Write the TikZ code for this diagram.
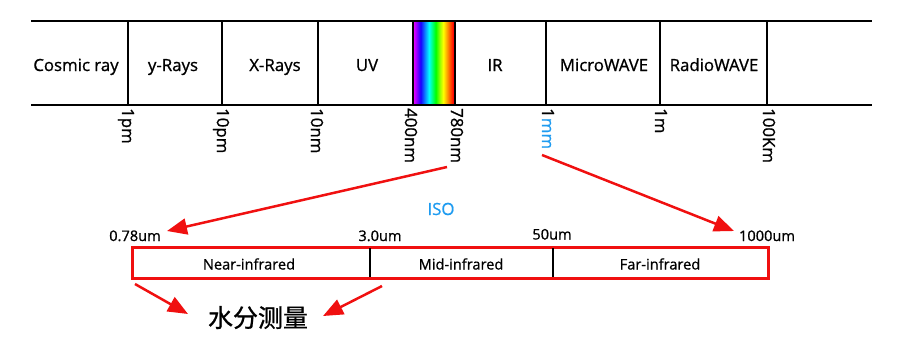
\documentclass[tikz,border=0pt]{standalone}
\usepackage{fontspec}
\setmainfont{Open Sans}
\newfontfamily\lblfont{Open Sans}[BoldFont={Open Sans},BoldFeatures={FakeBold=0.9}]
\newfontfamily\cjk{Noto Sans CJK SC}[BoldFont={Noto Sans CJK SC},BoldFeatures={FakeBold=0.9}]
\usetikzlibrary{arrows.meta}
\definecolor{arrred}{RGB}{240,16,16}
\definecolor{isoblue}{RGB}{30,155,240}
\pgfdeclarehorizontalshading{spectrum}{100bp}{rgb(0bp)=(1,0,1); rgb(25bp)=(1,0,1); rgb(28bp)=(0.7,0,1); rgb(34bp)=(0.1,0,1); rgb(44bp)=(0,1,1); rgb(52bp)=(0,1,0); rgb(57bp)=(0.6,1,0); rgb(61bp)=(1,1,0); rgb(67bp)=(1,0.5,0); rgb(73bp)=(1,0,0); rgb(75bp)=(1,0,0); rgb(100bp)=(1,0,0)}
\tikzset{
  bandline/.style={line width=2.5pt, black},
  toplbl/.style={font=\lblfont\bfseries\fontsize{16.8}{19}\selectfont, inner sep=0pt, anchor=base},
  ticklbl/.style={font=\lblfont\bfseries\fontsize{16.8}{19}\selectfont, inner sep=0pt, anchor=west, rotate=-90},
  botlbl/.style={font=\lblfont\bfseries\fontsize{14.6}{16}\selectfont, inner sep=0pt, anchor=base},
  redarrow/.style={draw=arrred, line width=2.5pt, -{Triangle[length=20pt,width=16pt]}},
  redbox/.style={draw=arrred, line width=3pt}
}
\begin{document}
\begin{tikzpicture}[x=1pt,y=-1pt]
\useasboundingbox (0,0) rectangle (900,360);
% spectrum
\shade[shading=spectrum] (413,21) rectangle (455,105);
% band lines
\draw[bandline] (31,21) -- (872,21);
\draw[bandline] (31,105) -- (872,105);
\foreach \x in {128,222,318,413,455,546,660,767}
  \draw[bandline] (\x,21) -- (\x,105);
% cell labels
\node[toplbl] (cosmic) at (76,71) {Cosmic ray};
\node[toplbl] (gamma) at (173,71) {y-Rays};
\node[toplbl] (xray) at (275,71) {X-Rays};
\node[toplbl] (uv) at (367,71) {UV};
\node[toplbl] (ir) at (495,71) {IR};
\node[toplbl] (micro) at (604,71) {MicroWAVE};
\node[toplbl] (radio) at (714,71) {RadioWAVE};
% tick labels
\node[ticklbl] (t1pm) at (126,108) {1pm};
\node[ticklbl] (t10pm) at (221,108) {10pm};
\node[ticklbl] (t10nm) at (317,108) {10nm};
\node[ticklbl] (t400) at (411,108) {400nm};
\node[ticklbl] (t780) at (457,108) {780nm};
\node[ticklbl] (t1mm) at (548,108) {1\textcolor{isoblue}{mm}};
\node[ticklbl] (t1m) at (661,108) {1m};
\node[ticklbl] (t100km) at (769,108) {100Km};
% ISO
\node[toplbl, text=isoblue] (iso) at (441,215) {ISO};
% lower box
\draw[redbox] (132,247) rectangle (768,278);
\draw[bandline] (370,248) -- (370,277);
\draw[bandline] (553,248) -- (553,277);
\node[botlbl] (near) at (249,269.5) {Near-infrared};
\node[botlbl] (mid) at (461,269.5) {Mid-infrared};
\node[botlbl] (far) at (660,269.5) {Far-infrared};
\node[botlbl] (b078) at (135,241) {0.78um};
\node[botlbl] (b30) at (380,241) {3.0um};
\node[botlbl] (b50) at (552,239.5) {50um};
\node[botlbl] (b1000) at (767,241) {1000um};
\node[font=\cjk\bfseries\fontsize{25}{28}\selectfont, inner sep=0pt, anchor=base] (water) at (258,327) {水分测量};
% arrow end coordinates
\coordinate (a1s) at (447,167);
\coordinate (a1e) at (167,231);
\coordinate (a2s) at (542,155);
\coordinate (a2e) at (734,231);
\coordinate (a3s) at (135,284);
\coordinate (a3e) at (188,314);
\coordinate (a4s) at (382,286);
\coordinate (a4e) at (323,316);
\draw[redarrow] (a1s) -- (a1e);
\draw[redarrow] (a2s) -- (a2e);
\draw[redarrow] (a3s) -- (a3e);
\draw[redarrow] (a4s) -- (a4e);
\end{tikzpicture}
\end{document}
